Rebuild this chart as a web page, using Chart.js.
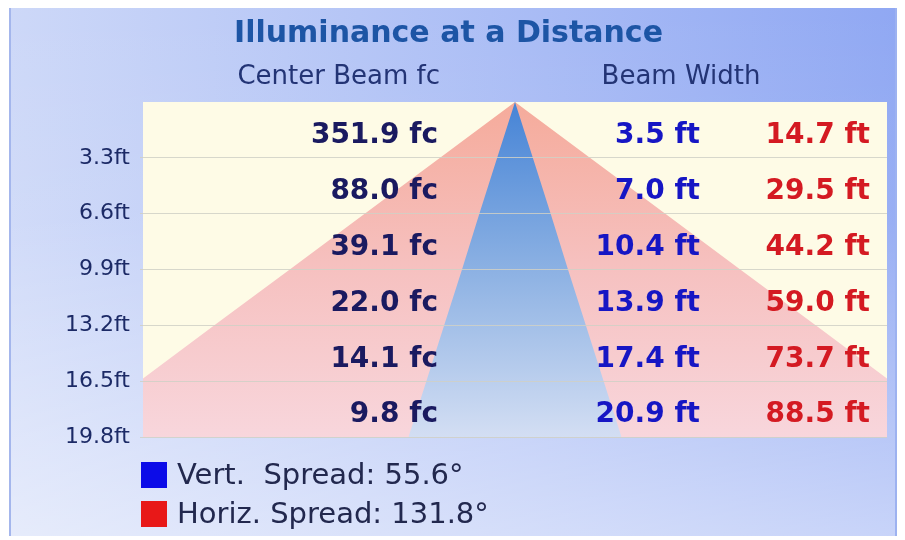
<!DOCTYPE html>
<html>
<head>
<meta charset="utf-8">
<title>Illuminance at a Distance</title>
<script src="https://cdn.jsdelivr.net/npm/chart.js@4.4.1/dist/chart.umd.min.js"></script>
<style>
  html, body { margin: 0; padding: 0; background: #ffffff; }
  #beamChart { display: block; }
</style>
</head>
<body>
<canvas id="beamChart" width="905" height="540"></canvas>
<script>
// distance below the fixture (ft) and the axis labels for it
const distances = [3.3, 6.6, 9.9, 13.2, 16.5, 19.8];
const distanceLabels = ['3.3ft', '6.6ft', '9.9ft', '13.2ft', '16.5ft', '19.8ft'];
// center beam illuminance (fc)
const centerBeam = [351.9, 88.0, 39.1, 22.0, 14.1, 9.8];
// beam widths (ft)
const vertWidth = [3.5, 7.0, 10.4, 13.9, 17.4, 20.9];
const horizWidth = [14.7, 29.5, 44.2, 59.0, 73.7, 88.5];
// spread angles (deg)
const vertSpread = 55.6;
const horizSpread = 131.8;

const FONT = '"DejaVu Sans", Verdana, sans-serif';
Chart.defaults.font.family = FONT;

// cone outline: left edge bottom -> apex -> right edge bottom
function conePoints(widths) {
    const left = distances.map((d, i) => ({ x: -widths[i] / 2, y: d })).reverse();
    const right = distances.map((d, i) => ({ x: widths[i] / 2, y: d }));
    return [...left, { x: 0, y: 0 }, ...right];
}

function vGradient(c, stops) {
    const area = c.chart.chartArea;
    if (!area) return stops[0][1];
    const g = c.chart.ctx.createLinearGradient(0, area.top, 0, area.bottom);
    stops.forEach(s => g.addColorStop(s[0], s[1]));
    return g;
}

const legendColors = ['#0c0ce8', '#e81818'];

// background panel + cream plot area
const panelPlugin = {
    id: 'panel',
    beforeDraw(chart) {
        const { ctx, chartArea: a } = chart;
        ctx.save();
        ctx.fillStyle = '#ffffff';
        ctx.fillRect(0, 0, chart.width, chart.height);
        const x0 = 9, y0 = 8, x1 = 897, y1 = 536;
        let g = ctx.createLinearGradient(x0, 0, x1, 0);
        g.addColorStop(0, '#cdd8f8');
        g.addColorStop(1, '#90a8f3');
        ctx.fillStyle = g;
        ctx.fillRect(x0, y0, x1 - x0, y1 - y0);
        g = ctx.createLinearGradient(0, y0, 0, y1);
        g.addColorStop(0, 'rgba(255,255,255,0)');
        g.addColorStop(0.4, 'rgba(255,255,255,0.08)');
        g.addColorStop(1, 'rgba(255,255,255,0.5)');
        ctx.fillStyle = g;
        ctx.fillRect(x0, y0, x1 - x0, y1 - y0);
        ctx.fillStyle = '#a4b6ec';
        ctx.fillRect(x0, y0, 2, y1 - y0);
        ctx.fillStyle = '#9db2f0';
        ctx.fillRect(x1 - 2, y0, 2, y1 - y0);
        ctx.fillStyle = '#fefbe6';
        ctx.fillRect(a.left, a.top, a.right - a.left, a.bottom - a.top);
        ctx.restore();
    }
};

// headers, row values and legend
const textPlugin = {
    id: 'beamText',
    afterDraw(chart) {
        const { ctx, chartArea: a } = chart;
        const y = chart.scales.y;
        const col1 = a.left + 295, col2 = a.left + 557, col3 = a.right - 17;
        ctx.save();
        ctx.textBaseline = 'middle';

        ctx.font = '26px ' + FONT;
        ctx.fillStyle = '#233475';
        ctx.textAlign = 'right';
        ctx.fillText('Center Beam fc', col1 + 2, 77);
        ctx.textAlign = 'center';
        ctx.fillText('Beam Width', a.left + 538, 77);

        ctx.font = 'bold 28px ' + FONT;
        ctx.textAlign = 'right';
        distances.forEach((d, i) => {
            const prev = i ? distances[i - 1] : 0;
            const py = y.getPixelForValue((prev + d) / 2) + 6;
            ctx.fillStyle = '#1a1a60';
            ctx.fillText(centerBeam[i].toFixed(1) + ' fc', col1, py);
            ctx.fillStyle = '#1616c4';
            ctx.fillText(vertWidth[i].toFixed(1) + ' ft', col2, py);
            ctx.fillStyle = '#d41a22';
            ctx.fillText(horizWidth[i].toFixed(1) + ' ft', col3, py);
        });

        ctx.font = '29px ' + FONT;
        ctx.textAlign = 'left';
        chart.data.datasets.forEach((ds, i) => {
            const ly = a.bottom + 38 + i * 39;
            ctx.fillStyle = legendColors[i];
            ctx.fillRect(a.left - 2, ly - 13, 26, 26);
            ctx.fillStyle = '#22284e';
            ctx.fillText(ds.label, a.left + 34, ly + 1);
        });
        ctx.restore();
    }
};

new Chart(document.getElementById('beamChart'), {
    type: 'scatter',
    data: {
        datasets: [
            {
                label: 'Vert.  Spread: ' + vertSpread.toFixed(1) + '°',
                data: conePoints(vertWidth),
                showLine: true,
                fill: 'start',
                borderWidth: 0,
                pointRadius: 0,
                backgroundColor: c => vGradient(c, [[0, '#4684d6'], [0.5, '#8cb1e3'], [1, '#d3def3']])
            },
            {
                label: 'Horiz. Spread: ' + horizSpread.toFixed(1) + '°',
                data: conePoints(horizWidth),
                showLine: true,
                fill: 'start',
                borderWidth: 0,
                pointRadius: 0,
                backgroundColor: c => vGradient(c, [[0, '#f5ab9b'], [0.5, '#f6c1c0'], [1, '#f8d6dc']])
            }
        ]
    },
    options: {
        responsive: false,
        animation: false,
        events: [],
        layout: { padding: { left: 10, right: 18, top: 0, bottom: 103 } },
        scales: {
            x: { type: 'linear', min: -36.5, max: 36.5, display: false },
            y: {
                type: 'linear',
                reverse: true,
                min: 0,
                max: 19.8,
                afterBuildTicks: s => { s.ticks = distances.map(v => ({ value: v })); },
                afterFit: s => { s.width = 133; },
                border: { display: false },
                grid: { color: 'rgba(208,208,198,0.85)', tickLength: 3, z: 1 },
                ticks: {
                    padding: 10,
                    color: '#1c2a66',
                    font: { size: 22 },
                    callback: (v, i) => distanceLabels[i]
                }
            }
        },
        plugins: {
            legend: { display: false },
            tooltip: { enabled: false },
            filler: { drawTime: 'beforeDatasetsDraw' },
            title: {
                display: true,
                text: 'Illuminance at a Distance',
                color: '#1d55a5',
                font: { size: 30, weight: 'bold' },
                padding: { top: 16, bottom: 50 }
            }
        }
    },
    plugins: [panelPlugin, textPlugin]
});
</script>
</body>
</html>
